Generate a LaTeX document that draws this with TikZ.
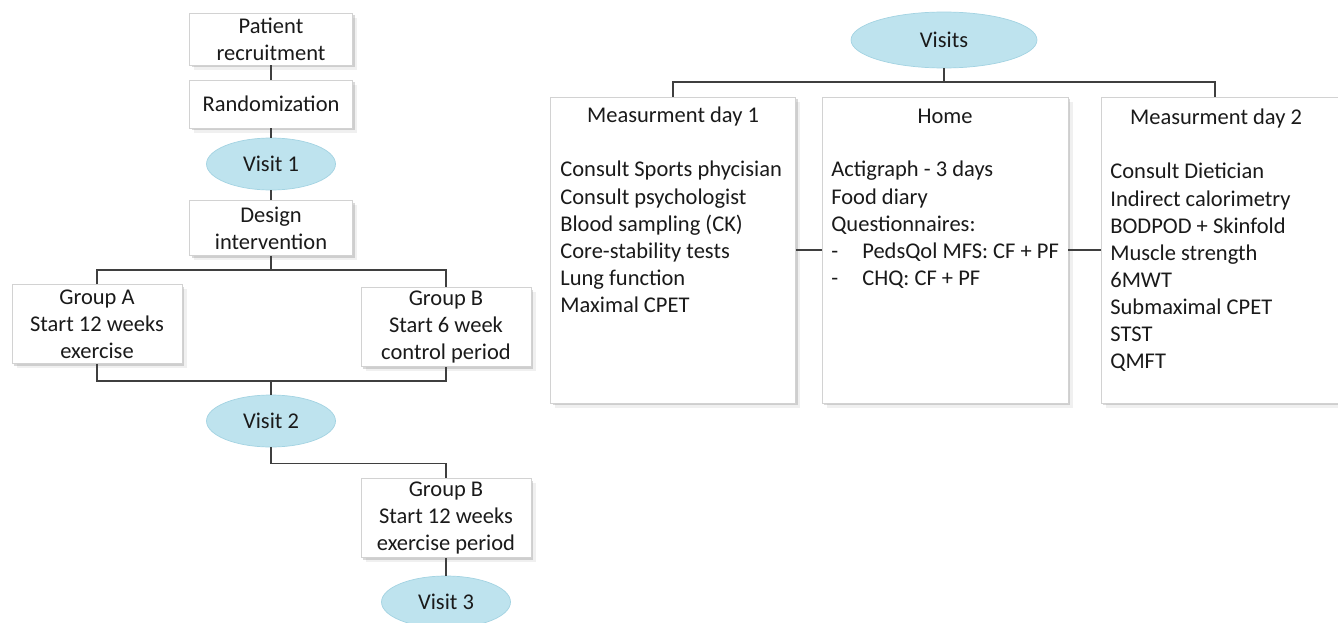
\documentclass[tikz,border=0pt]{standalone}
\usepackage{fontspec}
\setmainfont{Carlito}
\usepackage{xcolor}
\definecolor{visitfill}{HTML}{BEE3EE}
\definecolor{visitedge}{HTML}{A3D3E2}
\definecolor{boxgray}{HTML}{D2D2D2}
\definecolor{linegray}{HTML}{3F3F3F}
\definecolor{textgray}{HTML}{1A1A1A}
\usepackage{tikz}
\usetikzlibrary{shapes.geometric,positioning,calc,shadows}

\begin{document}
\begin{tikzpicture}[
  x=0.02cm, y=-0.02cm,
  every node/.style={font=\fontsize{12.8}{15.4}\selectfont,text=textgray},
  box/.style={rectangle,draw=boxgray,fill=white,align=center,inner sep=0pt,
              drop shadow={shadow xshift=2.6pt,shadow yshift=-2.6pt,opacity=0.12},
              drop shadow={shadow xshift=1.3pt,shadow yshift=-1.3pt,opacity=0.3}},
  flowbox/.style={box,minimum width=3.26cm,minimum height=1.04cm},
  groupbox/.style={box,minimum width=3.4cm,minimum height=1.58cm},
  listbox/.style={box,minimum width=4.9cm,minimum height=6.12cm},
  visit/.style={ellipse,fill=visitfill,draw=visitedge,inner sep=0pt,
                minimum width=2.58cm,minimum height=1.04cm},
  link/.style={draw=linegray,line width=0.6pt},
  items/.style={anchor=north west,align=left,inner sep=0pt},
]
  \useasboundingbox (0,0) rectangle (1338,622);

  % left: study flow
  \node[flowbox] (recr) at (271,39)  {Patient\\recruitment};
  \node[flowbox,minimum height=0.96cm] (rand) at (271,104) {Randomization};
  \node[visit] (v1) at (271,164) {Visit 1};
  \node[flowbox,minimum height=1.1cm] (design) at (271,228) {Design\\intervention};
  \node[groupbox] (grpA) at (97,324)  {Group A\\Start 12 weeks\\exercise};
  \node[groupbox] (grpB) at (446,327) {Group B\\Start 6 week\\control period};
  \node[visit] (v2) at (271,421) {Visit 2};
  \node[groupbox] (grpB2) at (446,518) {Group B\\Start 12 weeks\\exercise period};
  \node[visit] (v3) at (446,602) {Visit 3};

  \coordinate (split) at (271,270);
  \coordinate (merge) at (271,381);

  \draw[link] (recr) -- (rand);
  \draw[link] (rand) -- (v1);
  \draw[link] (v1) -- (design);
  \draw[link] (design) -- (split);
  \draw[link] (grpA.north) |- (split) -| (grpB.north);
  \draw[link] (grpA.south) |- (merge) -| (grpB.south);
  \draw[link] (merge) -- (v2);
  \draw[link] (v2.south) -- ++(0,16) -| (grpB2.north);
  \draw[link] (grpB2) -- (v3);

  % right: visits
  \node[visit,minimum width=3.72cm,minimum height=1.12cm] (visits) at (944,40) {Visits};
  \node[listbox] (day1) at (673,250) {};
  \node[listbox,minimum width=4.92cm] (home) at (945,250) {};
  \node[listbox,minimum width=4.88cm] (day2) at (1223,250) {};

  \coordinate (hub) at (944,82);
  \coordinate (day2top) at (1215,97);
  \draw[link] (visits) -- (hub);
  \draw[link] (day1.north) |- (hub) -| (day2top);
  \draw[link] (day1) -- (home);
  \draw[link] (home) -- (day2);

  \node at (673,117) {Measurment day 1};
  \node[items] (day1list) at (560,161) {Consult Sports phycisian\\Consult psychologist\\
    Blood sampling (CK)\\Core-stability tests\\Lung function\\Maximal CPET};

  \node at (945,116) {Home};
  \node[items] (homelist) at (831,161) {Actigraph - 3 days\\Food diary\\Questionnaires:\\
    \makebox[0.62cm][l]{-}PedsQol MFS: CF + PF\\\makebox[0.62cm][l]{-}CHQ: CF + PF};

  \node at (1216,119) {Measurment day 2};
  \node[items] (day2list) at (1110,163) {Consult Dietician\\Indirect calorimetry\\
    BODPOD + Skinfold\\Muscle strength\\6MWT\\Submaximal CPET\\STST\\QMFT};
\end{tikzpicture}
\end{document}
